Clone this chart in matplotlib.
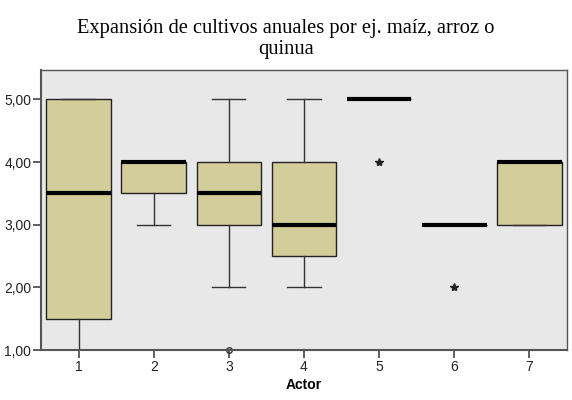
"""
plot.py - boxplot of actor ratings for annual crop expansion (SPSS style).
"""
import matplotlib
matplotlib.use("Agg")
import matplotlib.pyplot as plt

actors = [1, 2, 3, 4, 5, 6, 7]
q1 = [1.5, 3.5, 3.0, 2.5, 5.0, 3.0, 3.0]
medians = [3.5, 4.0, 3.5, 3.0, 5.0, 3.0, 4.0]
q3 = [5.0, 4.0, 4.0, 4.0, 5.0, 3.0, 4.0]
whisker_low = [1.0, 3.0, 2.0, 2.0, 5.0, 3.0, 3.0]
whisker_high = [5.0, 4.0, 5.0, 5.0, 5.0, 3.0, 4.0]
outliers = [[], [], [1.0], [], [], [], []]   # circles
extremes = [[], [], [], [], [4.0], [2.0], []]  # stars

BOX_COLOR = "#d3cd99"
BG_COLOR = "#e8e8e8"
EDGE = "#333333"

fig = plt.figure(figsize=(5.72, 4.0), dpi=100)
ax = fig.add_axes([0.0717, 0.125, 0.9195, 0.70])
ax.set_facecolor(BG_COLOR)

stats = []
for i in range(len(actors)):
    stats.append(dict(med=medians[i], q1=q1[i], q3=q3[i],
                      whislo=whisker_low[i], whishi=whisker_high[i],
                      fliers=outliers[i], label=str(actors[i])))

res = ax.bxp(stats, positions=actors, widths=0.86, patch_artist=True,
             showfliers=True, capwidths=0.44,
             boxprops=dict(facecolor=BOX_COLOR, edgecolor="#222222", linewidth=1.0),
             medianprops=dict(color="black", linewidth=3.0, solid_capstyle="butt"),
             whiskerprops=dict(color=EDGE, linewidth=1.0),
             capprops=dict(color=EDGE, linewidth=1.0),
             flierprops=dict(marker="o", markersize=4, markerfacecolor="none",
                             markeredgecolor=EDGE, markeredgewidth=1.0))
for fl in res["fliers"]:
    fl.set_clip_on(False)

for x, vals in zip(actors, extremes):
    for v in vals:
        ax.plot(x, v, marker="*", color="#222222", markersize=6,
                linestyle="none", clip_on=False)

ax.set_xlim(0.5, 7.5)
ax.set_ylim(1.0, 5.47)
ax.set_yticks([1, 2, 3, 4, 5])
ax.set_yticklabels(["1,00", "2,00", "3,00", "4,00", "5,00"])
ax.set_xticks(actors)
ax.set_xticklabels([str(a) for a in actors])

ax.tick_params(axis="both", direction="out", length=6, width=1.2,
               color="#444444", labelsize=10, labelcolor="#222222", pad=1)
for lab in ax.get_xticklabels() + ax.get_yticklabels():
    lab.set_fontfamily("Liberation Sans")

for side in ["left", "bottom"]:
    ax.spines[side].set_color("#555555")
    ax.spines[side].set_linewidth(1.5)
for side in ["top", "right"]:
    ax.spines[side].set_color("#555555")
    ax.spines[side].set_linewidth(1.0)

ax.set_xlabel("Actor", fontfamily="Liberation Sans", fontweight="bold",
              fontsize=10, labelpad=3)

fig.text(0.5, 0.9025, "Expansión de cultivos anuales por ej. maíz, arroz o\nquinua",
         ha="center", va="center", fontfamily="Liberation Serif", fontsize=14.8,
         linespacing=1.2)

fig.savefig("out.png", dpi=100)
